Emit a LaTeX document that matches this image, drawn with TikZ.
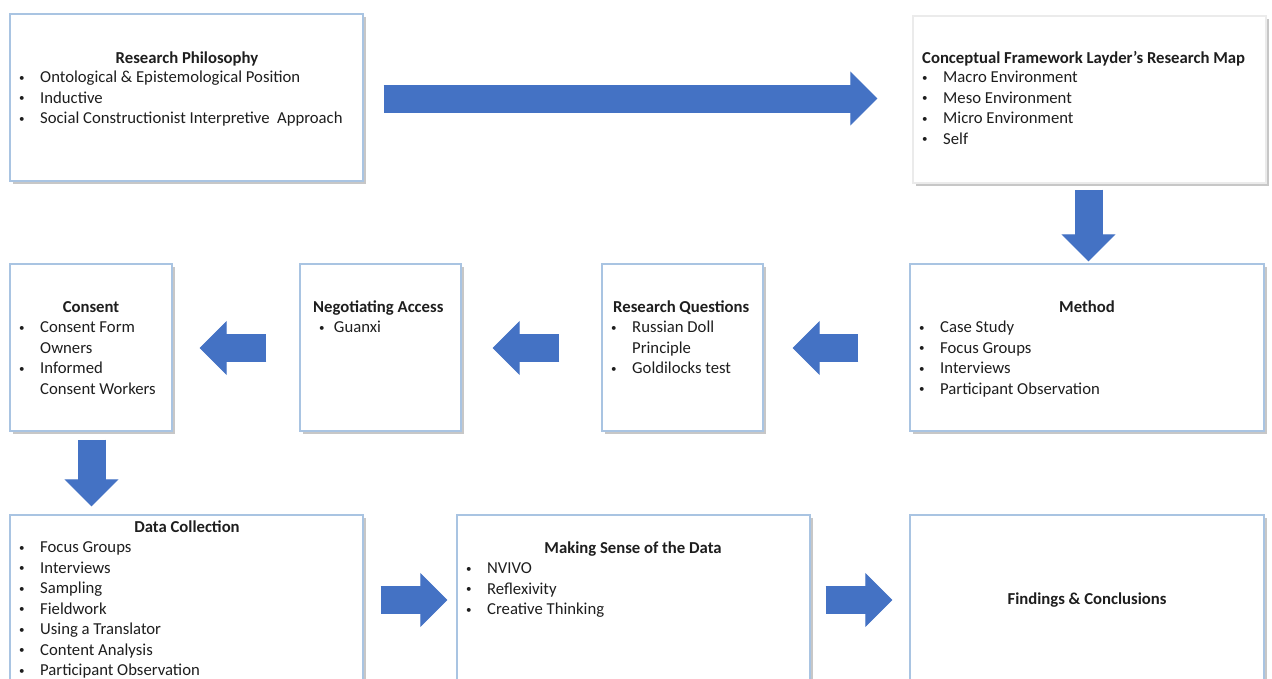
\documentclass[tikz,border=0pt]{standalone}
\usepackage{fontspec}
\setmainfont{Carlito}
\usetikzlibrary{arrows.meta,positioning,calc,shadows}

\definecolor{arrowblue}{HTML}{4472C4}
\definecolor{boxblue}{HTML}{A9C4E2}
\definecolor{inkgrey}{HTML}{1E1E1E}
\newcommand{\itm}[1][24pt]{\strut\makebox[#1][l]{\hspace{3pt}\raisebox{1.2pt}{\fontsize{11}{11}\selectfont•}}}

\begin{document}
\begin{tikzpicture}[x=1pt, y=-1pt,
    every node/.style={inner sep=0pt, text=inkgrey, font=\fontsize{16.7}{20.5}\selectfont},
    box/.style={draw=boxblue, line width=1.3pt, fill=white,
      drop shadow={shadow xshift=2.5pt, shadow yshift=-2.5pt, fill=black, opacity=0.22}},
    ttl/.style={font=\fontsize{16.7}{20.5}\selectfont\bfseries, anchor=base},
    lst/.style={anchor=north west, align=left},
    bigarrow/.style={draw=arrowblue, line width=28pt, -{Triangle[length=27pt, width=54pt, line width=1pt]}}]
    \useasboundingbox (0,0) rectangle (1272,678);
    \clip (0,0) rectangle (1272,678);

    % Top row
    \node[box, minimum width=353pt, minimum height=167pt] (rp) at (186.5,97.5) {};
    \node[ttl] (rpt) at (187,63.5) {Research Philosophy};
    \node[lst] (rpl) at (16,68) {\itm Ontological \& Epistemological Position\\
      \itm Inductive\\ \itm Social Constructionist Interpretive\ \ Approach};

    \node[box, draw=black!8, minimum width=353pt, minimum height=167pt] (cf) at (1089.5,99.5) {};
    \node[ttl, anchor=base west] (cft) at (922,63.5) {Conceptual Framework Layder’s Research Map};
    \node[lst] (cfl) at (919,68) {\itm Macro Environment\\ \itm Meso Environment\\
      \itm Micro Environment\\ \itm Self};

    % Middle row
    \node[box, minimum width=354pt, minimum height=167pt] (me) at (1087,347.5) {};
    \node[ttl] (met) at (1087,312.5) {Method};
    \node[lst] (mel) at (916,318) {\itm Case Study\\ \itm Focus Groups\\
      \itm Interviews\\ \itm Participant Observation};

    \node[box, minimum width=161pt, minimum height=167pt] (rq) at (682.5,347.5) {};
    \node[ttl, anchor=base west] (rqt) at (613,312.5) {Research Questions};
    \node[lst] (rql) at (608,318) {\itm Russian Doll\\ \strut\hspace{24pt}Principle\\
      \itm Goldilocks test};

    \node[box, minimum width=161pt, minimum height=167pt] (na) at (380.5,347.5) {};
    \node[ttl, anchor=base west] (nat) at (313,312.5) {Negotiating Access};
    \node[lst] (nal) at (316,318) {\itm[14pt] Guanxi};

    \node[box, minimum width=162pt, minimum height=167pt] (co) at (91,347.5) {};
    \node[ttl] (cot) at (91,312.5) {Consent};
    \node[lst] (col) at (16,318) {\itm Consent Form\\ \strut\hspace{24pt}Owners\\
      \itm Informed\\ \strut\hspace{24pt}Consent Workers};

    % Bottom row
    \node[box, minimum width=353pt, minimum height=170pt] (dc) at (186.5,600) {};
    \node[ttl] (dct) at (187,532.5) {Data Collection};
    \node[lst] (dcl) at (16,538) {\itm Focus Groups\\ \itm Interviews\\ \itm Sampling\\
      \itm Fieldwork\\ \itm Using a Translator\\ \itm Content Analysis\\
      \itm Participant Observation};

    \node[box, minimum width=353pt, minimum height=170pt] (ms) at (633.5,600) {};
    \node[ttl] (mst) at (633,553.5) {Making Sense of the Data};
    \node[lst] (msl) at (463,559) {\itm NVIVO\\ \itm Reflexivity\\ \itm Creative Thinking};

    \node[box, minimum width=354pt, minimum height=170pt] (fc) at (1087,600) {};
    \node[ttl] (fct) at (1087,604.5) {Findings \& Conclusions};

    % Block arrows
    \draw[bigarrow] ($(rp.east)+(20,1)$) -- ($(cf.west)+(-35,-1)$);
    \draw[bigarrow] ($(cf.south)+(-1,6)$) -- ($(me.north)+(1.5,-2)$);
    \draw[bigarrow] ($(me.west)+(-51,0.5)$) -- ($(rq.east)+(29,0.5)$);
    \draw[bigarrow] ($(rq.west)+(-42,0.5)$) -- ($(na.east)+(31,0.5)$);
    \draw[bigarrow] ($(na.west)+(-33,0.5)$) -- ($(co.east)+(27,0.5)$);
    \draw[bigarrow] ($(co.south)+(0.5,8)$) -- ($(co.south |- dc.north)+(0.5,-8)$);
    \draw[bigarrow] ($(dc.east)+(17,0)$) -- ($(ms.west)+(-9,0)$);
    \draw[bigarrow] ($(ms.east)+(15,0)$) -- ($(fc.west)+(-17,0)$);
  \end{tikzpicture}
\end{document}
